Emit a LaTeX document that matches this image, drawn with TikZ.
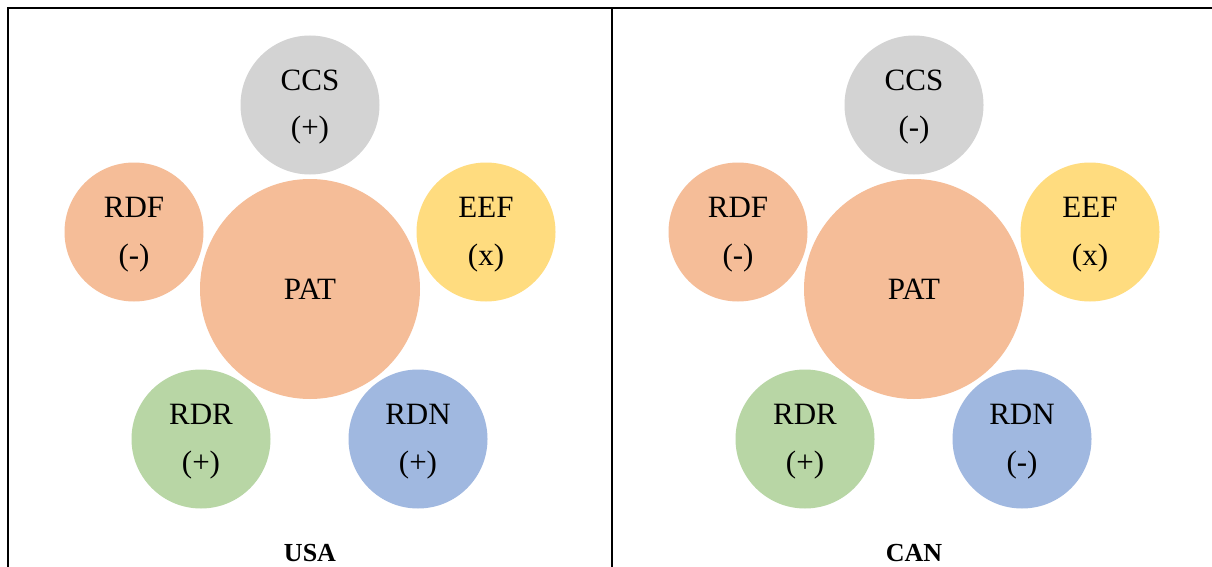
\documentclass[tikz,border=0pt]{standalone}
\usepackage{fontspec}
\setmainfont{Liberation Serif}
\definecolor{cgray}{RGB}{211,211,211}
\definecolor{corange}{RGB}{245,189,152}
\definecolor{cyellow}{RGB}{255,220,127}
\definecolor{cgreen}{RGB}{184,214,165}
\definecolor{cblue}{RGB}{160,184,224}
\tikzset{
  bub/.style={circle, inner sep=0pt, minimum size=139pt, draw=none},
  big/.style={circle, inner sep=0pt, minimum size=220pt, draw=none, fill=corange},
  txt/.style={font=\fontsize{31}{33}\selectfont, inner sep=0pt},
  panellabel/.style={font=\fontsize{26}{28}\selectfont\bfseries, inner sep=0pt},
  frame/.style={line width=1.6pt, draw=black}
}
\begin{document}
\begin{tikzpicture}[x=1pt,y=-1pt]
\useasboundingbox (0,0) rectangle (1212,567);
\fill[white] (0,0) rectangle (1212,567);
% frame
\coordinate (fl) at (8,580);
\coordinate (ftl) at (8,8);
\coordinate (ftr) at (1220,8);
\coordinate (fmt) at (612,8);
\coordinate (fmb) at (612,580);
\draw[frame] (fl) -- (ftl) -- (ftr);
\draw[frame] (fmt) -- (fmb);
\foreach \dx/\p/\sccs/\srdf/\seef/\srdr/\srdn/\lab in {0/u/(+)/(-)/(x)/(+)/(+)/USA, 604/c/(-)/(-)/(x)/(+)/(-)/CAN}{
  \begin{scope}[xshift=\dx pt]
    \node[big] (\p PAT) at (310,289) {};
    \node[bub, fill=cgray] (\p CCS) at (310,105) {};
    \node[bub, fill=corange] (\p RDF) at (134,232) {};
    \node[bub, fill=cyellow] (\p EEF) at (486,232) {};
    \node[bub, fill=cgreen] (\p RDR) at (201,439) {};
    \node[bub, fill=cblue] (\p RDN) at (418,439) {};
    \node[txt] (\p PATt) at (\p PAT) {PAT};
    \foreach \n/\s in {CCS/\sccs, RDF/\srdf, EEF/\seef, RDR/\srdr, RDN/\srdn}{
      \node[txt, anchor=base] (\p\n t) at ([yshift=14.5pt]\p\n.center) {\n};
      \node[txt, anchor=base] (\p\n s) at ([yshift=-33pt]\p\n.center) {\s};
    }
    \node[panellabel] (\p lab) at (310,553) {\lab};
  \end{scope}
}
\end{tikzpicture}
\end{document}
